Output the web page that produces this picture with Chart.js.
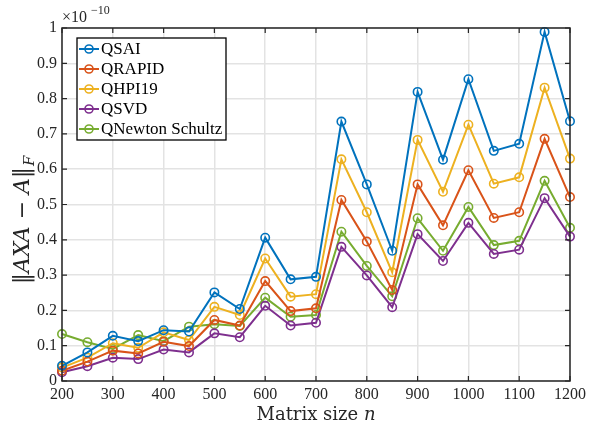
<!DOCTYPE html>
<html>
<head>
<meta charset="utf-8">
<script src="https://cdn.jsdelivr.net/npm/chart.js@4"></script>
<style>
  html, body { margin: 0; padding: 0; background: #fff; }
  #wrap { width: 590px; height: 434px; }
</style>
</head>
<body>
<div id="wrap"><canvas id="myChart"></canvas></div>
<script>
// values are in units of 1e-10
const sizes = [200, 250, 300, 350, 400, 450, 500, 550, 600, 650, 700, 750, 800, 850, 900, 950, 1000, 1050, 1100, 1150, 1200]
const qsai = [0.043, 0.081, 0.128, 0.113, 0.144, 0.140, 0.251, 0.204, 0.406, 0.288, 0.295, 0.735, 0.557, 0.369, 0.819, 0.627, 0.855, 0.652, 0.672, 0.989, 0.736]
const qrapid = [0.029, 0.055, 0.086, 0.078, 0.111, 0.099, 0.173, 0.157, 0.283, 0.198, 0.206, 0.513, 0.395, 0.258, 0.557, 0.441, 0.597, 0.462, 0.478, 0.686, 0.521]
const qhpi19 = [0.038, 0.066, 0.107, 0.094, 0.138, 0.116, 0.210, 0.187, 0.347, 0.239, 0.246, 0.628, 0.478, 0.308, 0.683, 0.536, 0.726, 0.559, 0.577, 0.831, 0.630]
const qsvd = [0.025, 0.042, 0.066, 0.062, 0.089, 0.081, 0.135, 0.124, 0.213, 0.157, 0.165, 0.380, 0.299, 0.209, 0.416, 0.340, 0.448, 0.360, 0.372, 0.518, 0.409]
const qnewton = [0.133, 0.110, 0.091, 0.130, 0.113, 0.154, 0.161, 0.156, 0.236, 0.182, 0.187, 0.423, 0.326, 0.240, 0.461, 0.369, 0.493, 0.385, 0.397, 0.567, 0.434]

const seriesNames = ['QSAI', 'QRAPID', 'QHPI19', 'QSVD', 'QNewton Schultz']
const seriesData = [qsai, qrapid, qhpi19, qsvd, qnewton]
const colors = ['#0072BD', '#D95319', '#EDB120', '#7E2F8E', '#77AC30']

const xTicks = [200, 300, 400, 500, 600, 700, 800, 900, 1000, 1100, 1200]
const yTicks = [0, 0.1, 0.2, 0.3, 0.4, 0.5, 0.6, 0.7, 0.8, 0.9, 1]

const SERIF = '"Liberation Serif", "DejaVu Serif", serif'
const WIDE = '"DejaVu Serif", serif'
const AXIS = '#262626'

const datasets = seriesNames.map((name, i) => ({
    label: name,
    data: sizes.map((n, j) => ({ x: n, y: seriesData[i][j] })),
    borderColor: colors[i],
    backgroundColor: colors[i],
    borderWidth: 2,
    pointRadius: 4.2,
    pointHoverRadius: 4.2,
    pointBorderWidth: 1.6,
    pointBackgroundColor: 'rgba(0,0,0,0)',
    pointBorderColor: colors[i],
    tension: 0,
    clip: false
}))

// box, inward ticks, legend, axis titles
const decor = {
    id: 'decor',
    afterDatasetsDraw(chart) {
        const { ctx, chartArea: a, scales } = chart
        ctx.save()
        ctx.strokeStyle = AXIS
        ctx.lineWidth = 1.5
        ctx.strokeRect(a.left, a.top, a.right - a.left, a.bottom - a.top)

        ctx.lineWidth = 1.2
        ctx.beginPath()
        xTicks.forEach(t => {
            const x = scales.x.getPixelForValue(t)
            ctx.moveTo(x, a.bottom); ctx.lineTo(x, a.bottom - 5)
            ctx.moveTo(x, a.top); ctx.lineTo(x, a.top + 5)
        })
        yTicks.forEach(t => {
            const y = scales.y.getPixelForValue(t)
            ctx.moveTo(a.left, y); ctx.lineTo(a.left + 5, y)
            ctx.moveTo(a.right, y); ctx.lineTo(a.right - 5, y)
        })
        ctx.stroke()

        // legend
        const lx = 77, ly = 38, lw = 149, lh = 102
        ctx.fillStyle = '#fff'
        ctx.fillRect(lx, ly, lw, lh)
        ctx.strokeStyle = '#000'
        ctx.lineWidth = 1.3
        ctx.strokeRect(lx, ly, lw, lh)
        ctx.font = '17px ' + SERIF
        ctx.textBaseline = 'middle'
        ctx.textAlign = 'left'
        seriesNames.forEach((name, i) => {
            const y = ly + 11 + i * 20
            ctx.strokeStyle = colors[i]
            ctx.lineWidth = 2
            ctx.beginPath()
            ctx.moveTo(lx + 2, y); ctx.lineTo(lx + 22, y)
            ctx.stroke()
            ctx.lineWidth = 1.6
            ctx.beginPath()
            ctx.arc(lx + 12, y, 4, 0, Math.PI * 2)
            ctx.stroke()
            ctx.fillStyle = '#000'
            ctx.fillText(name, lx + 24, y + 1)
        })

        // exponent label
        ctx.fillStyle = AXIS
        ctx.textBaseline = 'alphabetic'
        ctx.font = '16px ' + SERIF
        ctx.fillText('\u00d710', 62, 22)
        ctx.font = '12px ' + SERIF
        ctx.fillText('\u221210', 91, 14)

        // x title
        ctx.font = '18px ' + WIDE
        const t1 = 'Matrix size '
        const w1 = ctx.measureText(t1).width
        ctx.font = 'italic 18px ' + WIDE
        const w2 = ctx.measureText('n').width
        const cx = (a.left + a.right) / 2
        const sx = cx - (w1 + w2) / 2
        ctx.font = '18px ' + WIDE
        ctx.fillText(t1, sx, 420)
        ctx.font = 'italic 18px ' + WIDE
        ctx.fillText('n', sx + w1, 420)

        // y title
        ctx.translate(29, 284)
        ctx.rotate(-Math.PI / 2)
        const parts = [['\u2016', ''], ['AXA', 'italic '], [' \u2212 ', ''], ['A', 'italic '], ['\u2016', '']]
        let px = 0
        parts.forEach(p => {
            ctx.font = p[1] + '22px ' + WIDE
            ctx.fillText(p[0], px, 0)
            px += ctx.measureText(p[0]).width
        })
        ctx.font = 'italic 15px ' + WIDE
        ctx.fillText('F', px + 1, 5)
        ctx.restore()
    }
}

const ctx = document.querySelector('#myChart')
new Chart(ctx, {
    type: 'line',
    data: { datasets },
    options: {
        responsive: true,
        maintainAspectRatio: false,
        animation: false,
        events: [],
        layout: { padding: { left: 0, top: 28, right: 17, bottom: 0 } },
        plugins: { legend: { display: false }, tooltip: { enabled: false } },
        scales: {
            x: {
                type: 'linear',
                min: 200, max: 1200,
                afterFit(scale) { scale.height = 53 },
                afterBuildTicks(scale) { scale.ticks = xTicks.map(v => ({ value: v })) },
                grid: { color: '#e3e3e3', lineWidth: 1.5, drawTicks: false },
                border: { display: false },
                ticks: {
                    color: AXIS, padding: 4, maxRotation: 0, autoSkip: false,
                    font: { family: SERIF, size: 16 },
                    callback: v => String(v)
                }
            },
            y: {
                type: 'linear',
                min: 0, max: 1,
                afterFit(scale) { scale.width = 62 },
                afterBuildTicks(scale) { scale.ticks = yTicks.map(v => ({ value: v })) },
                grid: { color: '#e3e3e3', lineWidth: 1.5, drawTicks: false },
                border: { display: false },
                ticks: {
                    color: AXIS, padding: 5, autoSkip: false,
                    font: { family: SERIF, size: 16 },
                    callback: v => String(+v.toFixed(1))
                }
            }
        }
    },
    plugins: [decor]
})
</script>
</body>
</html>
